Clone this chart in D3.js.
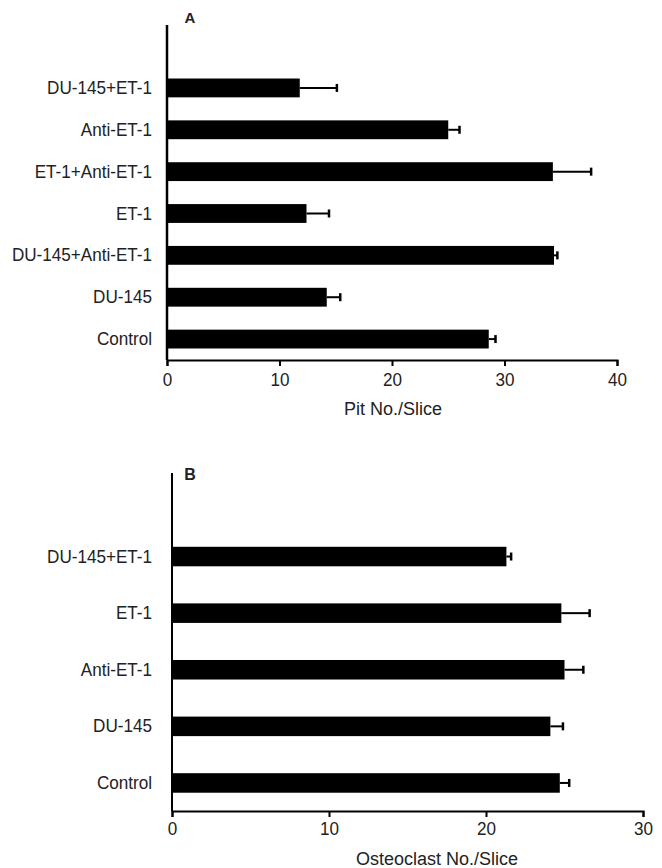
<!DOCTYPE html>
<html><head><meta charset="utf-8">
<script src="https://cdn.jsdelivr.net/npm/d3@7"></script>
<style>
html,body{margin:0;padding:0;background:#fff;}
svg{display:block;font-family:"Liberation Sans",Arial,sans-serif;}
</style></head>
<body>
<svg id="chart" width="662" height="868"></svg>
<script>
// Panel A: Pit No./Slice
const categoriesA = ["DU-145+ET-1","Anti-ET-1","ET-1+Anti-ET-1","ET-1","DU-145+Anti-ET-1","DU-145","Control"];
const meansA = [11.8, 25.0, 34.3, 12.4, 34.4, 14.2, 28.6];
const errorsA = [3.3, 1.0, 3.4, 2.0, 0.3, 1.2, 0.6];
const ticksA = [0, 10, 20, 30, 40];

// Panel B: Osteoclast No./Slice
const categoriesB = ["DU-145+ET-1","ET-1","Anti-ET-1","DU-145","Control"];
const meansB = [21.3, 24.8, 25.0, 24.1, 24.7];
const errorsB = [0.3, 1.8, 1.2, 0.8, 0.6];
const ticksB = [0, 10, 20, 30];

const svg = d3.select("#chart");

function panel(o){
  const g = svg.append("g");
  const x = d3.scaleLinear().domain([0, o.max]).range([o.x0, o.x1]);
  const y = d3.scaleBand().domain(o.cats).range([o.yStart, o.axisY])
      .paddingInner(o.pin).paddingOuter(o.pout);
  const rows = o.cats.map((c,i)=>({c, v:o.means[i], e:o.errs[i]}));

  // bars
  g.selectAll("rect.bar").data(rows).join("rect")
    .attr("x", x(0)).attr("y", d=>y(d.c))
    .attr("width", d=>x(d.v)-x(0)).attr("height", y.bandwidth())
    .attr("fill", "#000");

  // error bars
  g.selectAll("line.err").data(rows).join("line")
    .attr("x1", d=>x(d.v)).attr("x2", d=>x(d.v+d.e))
    .attr("y1", d=>y(d.c)+y.bandwidth()/2).attr("y2", d=>y(d.c)+y.bandwidth()/2)
    .attr("stroke", "#000").attr("stroke-width", 2);
  g.selectAll("line.cap").data(rows).join("line")
    .attr("x1", d=>x(d.v+d.e)).attr("x2", d=>x(d.v+d.e))
    .attr("y1", d=>y(d.c)+y.bandwidth()/2-4).attr("y2", d=>y(d.c)+y.bandwidth()/2+4)
    .attr("stroke", "#000").attr("stroke-width", 2.5);

  // y axis line
  g.append("line").attr("x1", x(0)).attr("x2", x(0))
    .attr("y1", o.axisTop).attr("y2", o.axisY)
    .attr("stroke", "#000").attr("stroke-width", o.yAxisW);

  // y category labels
  const ya = g.append("g").attr("transform", `translate(${x(0)},0)`)
    .call(d3.axisLeft(y).tickSize(0).tickPadding(0));
  ya.select(".domain").remove();
  ya.selectAll("text")
    .attr("x", -o.labelPad/0.9)
    .attr("transform", "scale(0.9,1)")
    .style("font-size", "19px").style("font-family", '"Liberation Sans",Arial,sans-serif')
    .attr("fill", "#222");

  // x axis
  const xa = g.append("g").attr("transform", `translate(0,${o.axisY})`)
    .call(d3.axisBottom(x).tickValues(o.ticks).tickFormat(d3.format("d")).tickSize(6).tickPadding(o.tickPad));
  xa.select(".domain").attr("stroke", "#000").attr("stroke-width", 2);
  xa.selectAll(".tick line").attr("stroke", "#000").attr("stroke-width", 2);
  xa.selectAll(".tick text")
    .each(function(){
      const t = d3.select(this);
      const yy = +t.attr("y");
      t.attr("transform", "scale(0.9,1)");
    })
    .style("font-size", "19px").style("font-family", '"Liberation Sans",Arial,sans-serif')
    .attr("fill", "#222");

  // axis title
  g.append("text").attr("x", o.titleX).attr("y", o.titleY)
    .attr("text-anchor", "middle").attr("fill", "#222")
    .style("font-size", "18px").text(o.title);

  // panel letter
  g.append("text").attr("x", o.letterX).attr("y", o.letterY)
    .attr("text-anchor", "middle").attr("fill", "#222")
    .style("font-size", o.letterSize).style("font-weight", "bold").text(o.letter);
}

panel({
  cats: categoriesA, means: meansA, errs: errorsA, ticks: ticksA, max: 40,
  x0: 167, x1: 617, yStart: 67, axisY: 360, axisTop: 25, pin: 0.55, pout: 0.275,
  yAxisW: 2.5, labelPad: 15, tickPad: 7,
  title: "Pit No./Slice", titleX: 393, titleY: 415,
  letter: "A", letterX: 190, letterY: 23, letterSize: "15px"
});

panel({
  cats: categoriesB, means: meansB, errs: errorsB, ticks: ticksB, max: 30,
  x0: 172, x1: 643, yStart: 528.5, axisY: 811, axisTop: 473, pin: 0.655, pout: 0.323,
  yAxisW: 2, labelPad: 20, tickPad: 5,
  title: "Osteoclast No./Slice", titleX: 437, titleY: 865,
  letter: "B", letterX: 190, letterY: 480, letterSize: "16px"
});
</script>
</body></html>
